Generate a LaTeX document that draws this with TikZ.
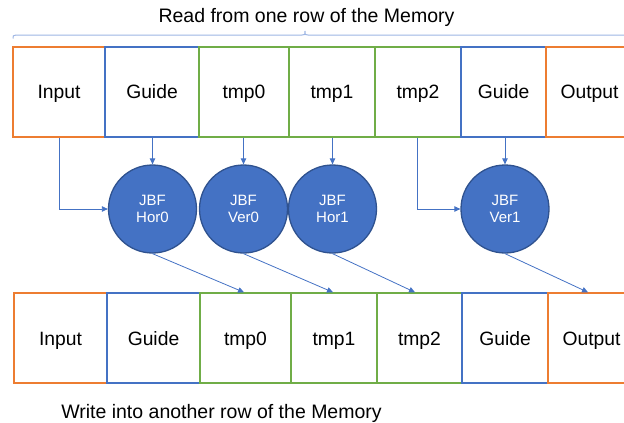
\documentclass[tikz,border=0pt]{standalone}
\usepackage{fontspec}
\setmainfont{Liberation Sans}
\usetikzlibrary{arrows.meta}
\definecolor{cOrange}{HTML}{ED7D31}
\definecolor{cBlue}{HTML}{4472C4}
\definecolor{cGreen}{HTML}{70AD47}
\definecolor{cDark}{HTML}{2F528F}
\definecolor{cBrace}{HTML}{9DB5E3}
\tikzset{
  cell/.style={draw, line width=2pt, minimum height=90pt, inner sep=0pt,
    font=\fontsize{19.3}{22}\selectfont, text height=13.8pt, text depth=0pt},
  oc/.style={cell, draw=cOrange},
  bc/.style={cell, draw=cBlue},
  gc/.style={cell, draw=cGreen},
  jbf/.style={circle, fill=cBlue, draw=cDark, line width=1.3pt, minimum size=88pt,
    inner sep=0pt, text=white, align=center, font=\fontsize{15}{17.5}\selectfont},
  link/.style={draw=cBlue, line width=0.8pt, -{Triangle[length=6pt,width=5.5pt]}},
  caption/.style={font=\fontsize{19.5}{22}\selectfont, anchor=base, inner sep=0pt}
}
\begin{document}
\begin{tikzpicture}[x=1pt,y=-1pt]
\useasboundingbox (0,0) rectangle (624,423);
\clip (0,0) rectangle (624,423);

% caption and brace above the source row
\node[caption] (rtitle) at (306.5,23) {Read from one row of the Memory};
\draw[cBrace, line width=1pt] (13,38.5) .. controls (13,35.5) .. (16,35) -- (302,35)
  .. controls (305,35) .. (305,31) .. controls (305,35) .. (308,35) -- (640,35);

% source row
\node[oc, minimum width=92pt] (tin)  at (59,91.7)  {Input};
\node[bc, minimum width=94pt] (tg1)  at (152,91.7) {Guide};
\node[gc, minimum width=90pt] (tt0)  at (244,91.7) {tmp0};
\node[gc, minimum width=86pt] (tt1)  at (332,91.7) {tmp1};
\node[gc, minimum width=86pt] (tt2)  at (418,91.7) {tmp2};
\node[bc, minimum width=85pt] (tg2)  at (503.5,91.7) {Guide};
\node[oc, minimum width=87pt] (tout) at (589.5,91.7) {Output};

% destination row
\node[oc, minimum width=93pt] (bin)  at (60.5,338.3)  {Input};
\node[bc, minimum width=93pt] (bg1)  at (153.5,338.3) {Guide};
\node[gc, minimum width=91pt] (bt0)  at (245.5,338.3) {tmp0};
\node[gc, minimum width=86pt] (bt1)  at (334,338.3)   {tmp1};
\node[gc, minimum width=85pt] (bt2)  at (419.5,338.3) {tmp2};
\node[bc, minimum width=86pt] (bg2)  at (505,338.3)   {Guide};
\node[oc, minimum width=87pt] (bout) at (591.5,338.3) {Output};

% filter stages
\node[jbf] (hor0) at (152.5,209) {JBF\\Hor0};
\node[jbf] (ver0) at (243.5,209) {JBF\\Ver0};
\node[jbf] (hor1) at (332.5,209) {JBF\\Hor1};
\node[jbf] (ver1) at (505,209)   {JBF\\Ver1};

% inputs to the stages
\draw[link] (tg1.south -| hor0.north) -- (hor0.north);
\draw[link] (tt0.south -| ver0.north) -- (ver0.north);
\draw[link] (tt1.south -| hor1.north) -- (hor1.north);
\draw[link] (tg2.south -| ver1.north) -- (ver1.north);
\draw[link] (tin.south) |- (hor0.west);
\draw[link] ([xshift=-1pt]tt2.south) |- (ver1.west);

% outputs written back
\draw[link] (hor0.south) -- ([xshift=-1.5pt]bt0.north);
\draw[link] (ver0.south) -- ([xshift=-1pt]bt1.north);
\draw[link] (hor1.south) -- ([xshift=-4.5pt]bt2.north);
\draw[link] (ver1.south) -- ([xshift=-3.5pt]bout.north);

\node[caption] (wtitle) at (221.5,418.3) {Write into another row of the Memory};
\end{tikzpicture}
\end{document}
